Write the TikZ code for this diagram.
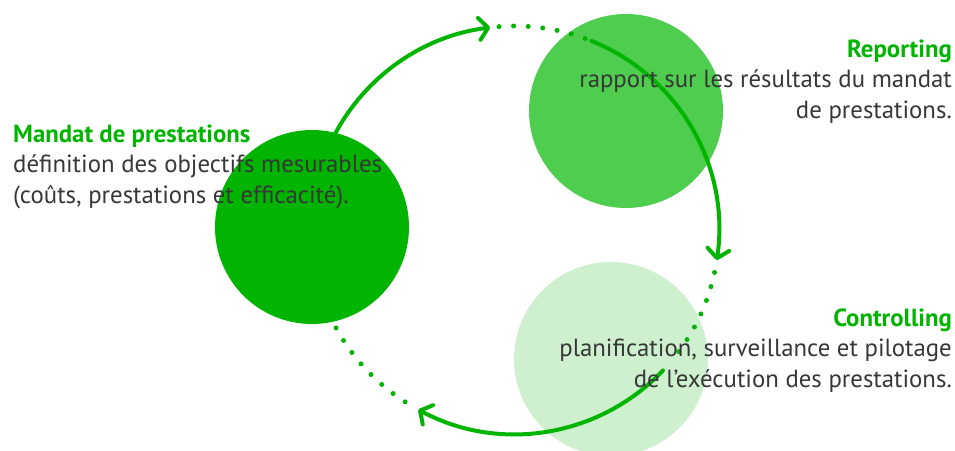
\documentclass[tikz,border=0pt]{standalone}
\usepackage{fontspec}
\setmainfont{PT Sans}
\usepackage{tikz}
\usetikzlibrary{arrows.meta}

\definecolor{greenDark}{RGB}{0,180,0}
\definecolor{greenMid}{RGB}{78,205,78}
\definecolor{greenLight}{RGB}{206,240,206}
\definecolor{textGray}{RGB}{55,55,55}

\begin{document}
\begin{tikzpicture} [x=1pt, y=1pt,
				phase/.style={
				% The shape:
				circle,
				% The size:
				minimum size=194pt, inner sep=0pt,
				% The border:
				draw=none
				},
				flow/.style={
				% The line:
				line width=4pt, draw=greenDark, line cap=round,
				% The tip:
				-{Straight Barb[length=9pt,width=22pt,round]}
				},
				gap/.style={
				% The dots:
				line width=5pt, draw=greenDark, line cap=round,
				dash pattern=on 0pt off 14.6pt
				},
				blurb/.style={
				% The text:
				text=textGray, inner sep=0pt,
				font=\fontsize{24.8}{30.5}\selectfont
				},
				]
    \useasboundingbox (0,0) rectangle (955,-450);
    % the three phases
    \node [phase, fill=greenDark] (mandat) at (312,-227) {};
    \node [phase, fill=greenMid] (reporting) at (626,-111) {};
    \node [phase, fill=greenLight] (controlling) at (611,-359) {};
    % the ring around them
    \coordinate (ring) at (515,-230);
    \path (ring) ++(152:204) coordinate (a1);
    \path (ring) ++(94.5:204) coordinate (d1);
    \path (ring) ++(68:204) coordinate (a2);
    \path (ring) ++(-12:204) coordinate (d2);
    \path (ring) ++(-43.5:204) coordinate (a3);
    \path (ring) ++(-122.6:204) coordinate (d3);
    \draw [flow] (a1) arc [start angle=152, end angle=97, radius=204];
    \draw [gap] (d1) arc [start angle=94.5, end angle=69, radius=204];
    \draw [flow] (a2) arc [start angle=68, end angle=-8.5, radius=204];
    \draw [gap] (d2) arc [start angle=-12, end angle=-38, radius=204];
    \draw [flow] (a3) arc [start angle=-43.5, end angle=-118.3, radius=204];
    \draw [gap] (d3) arc [start angle=-122.6, end angle=-152, radius=204];
    % the texts (base = last line)
    \node [blurb, anchor=base west, align=left] (mandatTxt) at (13,-203)
        {\textcolor{greenDark}{\bfseries Mandat de prestations}\\
         définition des objectifs mesurables\\
         (coûts, prestations et efficacité).};
    \node [blurb, anchor=base east, align=right] (reportingTxt) at (952,-118)
        {\textcolor{greenDark}{\bfseries Reporting}\\
         rapport sur les résultats du mandat\\
         de prestations.};
    \node [blurb, anchor=base east, align=right] (controllingTxt) at (952,-387)
        {\textcolor{greenDark}{\bfseries Controlling}\\
         planification, surveillance et pilotage\\
         de l’exécution des prestations.};
\end{tikzpicture}
\end{document}
